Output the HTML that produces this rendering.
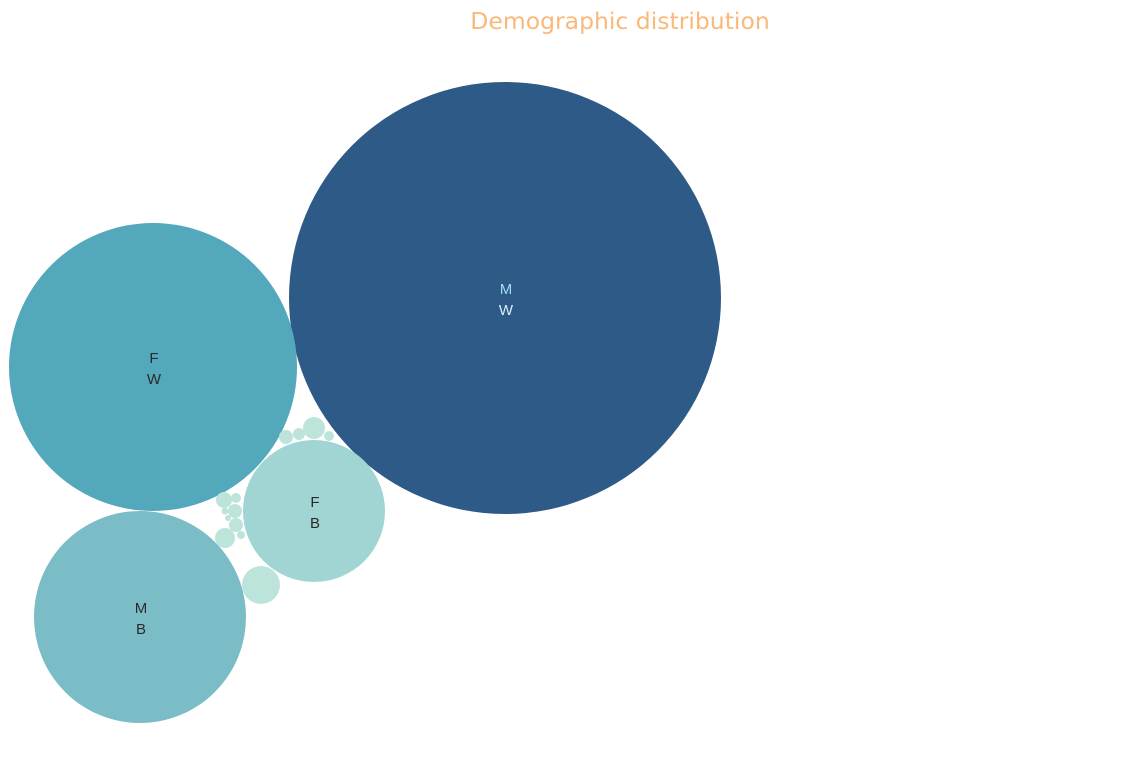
<!DOCTYPE html>
<html><head><meta charset="utf-8"><style>
body{margin:0;background:#fff;width:1127px;height:756px;overflow:hidden;font-family:"Liberation Sans","DejaVu Sans",sans-serif}
</style></head><body>
<svg id="chart" width="1127" height="756" viewBox="0 0 1127 756">
<text x="620" y="29" text-anchor="middle" font-size="23.5" fill="#f9b97a" font-family="DejaVu Sans, Liberation Sans, sans-serif">Demographic distribution</text>
<g id="bubbles"></g>
</svg>
<script>
const labels1 = ["M","F","M","F","","","","","","","","","","","","",""];
const labels2 = ["W","W","B","B","","","","","","","","","","","","",""];
const values = [46656,20736,11236,5041,49,36,121,25,64,25,49,12,9,49,16,100,361];
const layoutX = [505,153,140,314,286,299,314,329,224,236,235,225,228,236,241,225,261];
const layoutY = [298,367,617,511,437,434,428,436,500,498,511,511,518,525,535,538,585];
const colors = ["#2e5a87","#53a8bc","#7bbdc6","#a0d5d4"];
const smallColor = "#bde4da";
const rScale = v => Math.sqrt(v);
const g = document.getElementById('bubbles');
const NS = "http://www.w3.org/2000/svg";
values.forEach((v,i)=>{
  const c = document.createElementNS(NS,'circle');
  c.setAttribute('cx', layoutX[i]);
  c.setAttribute('cy', layoutY[i]);
  c.setAttribute('r', rScale(v));
  c.setAttribute('fill', colors[i] || smallColor);
  
  
  g.appendChild(c);
  if (labels1[i]) {
    const light = i === 0;
    [[labels1[i], -4],[labels2[i], 17]].forEach(([t,dy],k)=>{
      const tx = document.createElementNS(NS,'text');
      tx.setAttribute('x', layoutX[i]+1);
      tx.setAttribute('y', layoutY[i]+dy);
      tx.setAttribute('text-anchor','middle');
      tx.setAttribute('font-size','15');
      tx.setAttribute('fill', light ? (k===0?'#9fdcf5':'#d8eef5') : '#2b2b2b');
      tx.textContent = t;
      
      
      g.appendChild(tx);
    });
  }
});
</script>
</body></html>
